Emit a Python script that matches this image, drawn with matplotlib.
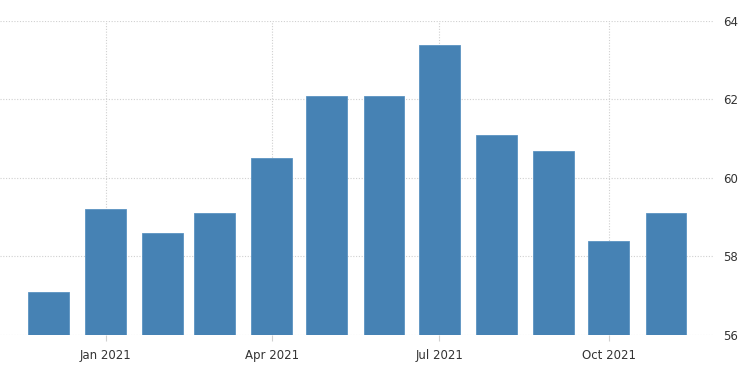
import numpy as np
import matplotlib.pyplot as plt
import matplotlib.dates as mdates
import pandas as pd

# monthly values, Dec 2020 - Nov 2021
months = pd.date_range("2020-12-01", "2021-11-01", freq="MS")
values = [57.1, 59.2, 58.6, 59.1, 60.5, 62.1, 62.1, 63.4, 61.1, 60.7, 58.4, 59.1]
tick_dates = pd.to_datetime(["2021-01-01", "2021-04-01", "2021-07-01", "2021-10-01"])
tick_labels = ["Jan 2021", "Apr 2021", "Jul 2021", "Oct 2021"]
y_ticks = [56, 58, 60, 62, 64]

plt.rcParams["font.family"] = "DejaVu Sans"
fig = plt.figure(figsize=[7.5, 3.75], dpi=100)
ax = fig.add_axes([0.0, 0.1067, 0.951, 0.8373])

ax.bar(months, values, width=22.2, color="#4682b4", edgecolor="#5b93c2",
       linewidth=0.6, zorder=2)

ax.set_xlim(pd.Timestamp("2020-11-04 14:00"), pd.Timestamp("2021-11-26 16:00"))
ax.set_ylim(56, 64)

ax.set_xticks(tick_dates)
ax.set_xticklabels(tick_labels)
ax.set_yticks(y_ticks)
ax.yaxis.tick_right()

ax.grid(True, color="#d0d0d0", linestyle=(0, (1, 1.5)), linewidth=0.8, zorder=0)
for s in ax.spines.values():
    s.set_visible(False)

ax.tick_params(axis="x", length=4, color="#d0d0d0", pad=6, labelsize=8.5, labelcolor="#333333")
ax.tick_params(axis="y", length=0, pad=7, labelsize=8.5, labelcolor="#333333")

plt.savefig("out.png", dpi=100)
